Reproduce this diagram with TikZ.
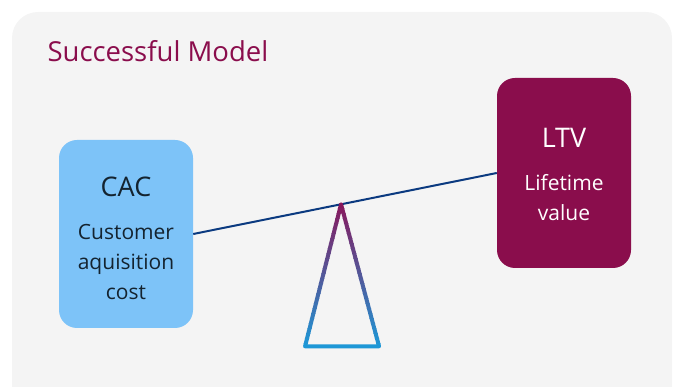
\documentclass[tikz,border=0pt]{standalone}
\usepackage{fontspec}
\setmainfont{Open Sans}
\usetikzlibrary{calc}

\definecolor{panelgrey}{HTML}{F4F4F4}
\definecolor{cacblue}{HTML}{7DC3F8}
\definecolor{ltvred}{HTML}{8A0D4C}
\definecolor{beamblue}{HTML}{0B3A80}
\definecolor{tritop}{HTML}{8A1459}
\definecolor{tribot}{HTML}{1E97D6}
\definecolor{cactext}{HTML}{14232F}

\tikzset{
  box/.style={rectangle, rounded corners=18pt, minimum width=134pt, inner sep=0pt},
  heading/.style={anchor=base, font=\fontsize{27}{30}\selectfont},
  % base anchor sits on the last line
  body/.style={anchor=base, align=center, inner sep=0pt, font=\fontsize{21}{30}\selectfont}
}

\begin{document}
\begin{tikzpicture}[x=1pt, y=-1pt]
        \useasboundingbox (0,0) rectangle (675,387);
        \clip (0,0) rectangle (675,387);
        \fill[panelgrey, rounded corners=26pt] (12,12) rectangle (672,420);
        \node[anchor=base west, text=ltvred, font=\fontsize{27.5}{30}\selectfont] (title) at (44,62) {Successful Model};
        \node[box, fill=cacblue, minimum height=188pt] (cac) at (126,234) {};
        \node[box, fill=ltvred, minimum height=190pt] (ltv) at (564,173) {};
        \node[heading, text=cactext] (cachead) at ($(cac.north)+(0,57)$) {CAC};
        \node[body, text=cactext] (cacbody) at ($(cac.north)+(0,160)$) {Customer\\aquisition\\cost};
        \node[heading, text=white] (ltvhead) at ($(ltv.north)+(0,70)$) {LTV};
        \node[body, text=white] (ltvbody) at ($(ltv.north)+(0,143)$) {Lifetime\\value};
        % beam and pivot
        \draw[beamblue, line width=2pt] (cac.east) -- (ltv.west);
        \coordinate (pivot) at ($(cac.east)!0.487!(ltv.west)$);
        \coordinate (baseL) at ($(pivot)+(-36,142)$);
        \coordinate (baseR) at ($(pivot)+(38,142)$);
        % triangle, shaded band by band
        \foreach \i in {0,...,29}{
          \pgfmathsetmacro{\pct}{100*\i/29}
          \begin{scope}
            \clip ($(pivot)+(-60,-6+5*\i)$) rectangle ($(pivot)+(60,-6+5*\i+5.5)$);
            \draw[tribot!\pct!tritop, line width=4pt, line join=round] (pivot) -- (baseR) -- (baseL) -- cycle;
          \end{scope}
        }
      \end{tikzpicture}
\end{document}
